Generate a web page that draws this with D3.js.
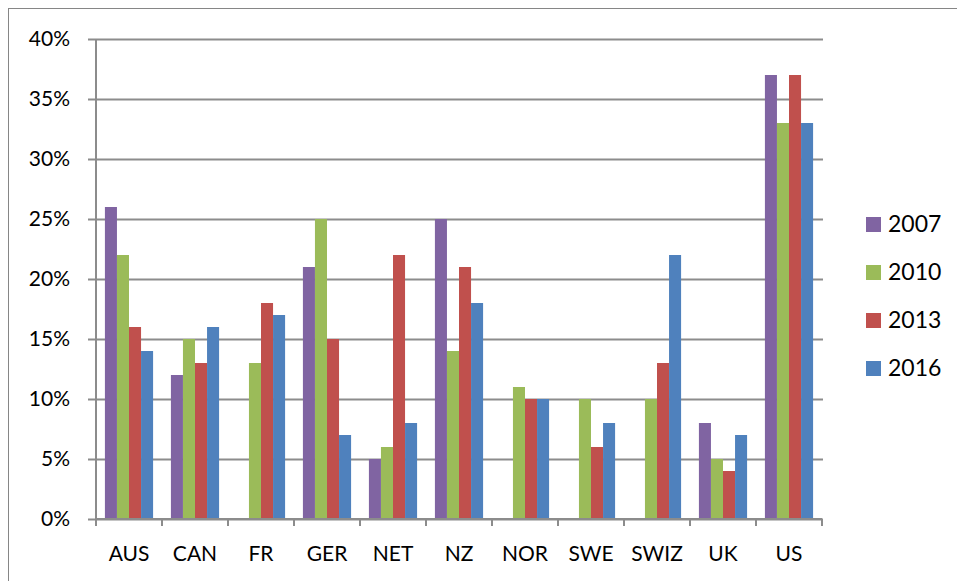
<!DOCTYPE html>
<html>
<head>
<meta charset="utf-8">
<script src="https://cdn.jsdelivr.net/npm/d3@7"></script>
<style>
  body { margin: 0; background: #fff; }
  text { font-family: Lato, "Open Sans", sans-serif; fill: #000; }
</style>
</head>
<body>
<div id="chart"></div>
<script>
const countries = ["AUS", "CAN", "FR", "GER", "NET", "NZ", "NOR", "SWE", "SWIZ", "UK", "US"];
const years = ["2007", "2010", "2013", "2016"];
const v2007 = [26, 12, 0, 21, 5, 25, 0, 0, 0, 8, 37];
const v2010 = [22, 15, 13, 25, 6, 14, 11, 10, 10, 5, 33];
const v2013 = [16, 13, 18, 15, 22, 21, 10, 6, 13, 4, 37];
const v2016 = [14, 16, 17, 7, 8, 18, 10, 8, 22, 7, 33];
const yTicks = [0, 5, 10, 15, 20, 25, 30, 35, 40];
const colors = ["#8064A2", "#9BBB59", "#C0504D", "#4F81BD"];

const width = 957, height = 581,
    margin = ({ top: 39, right: 135, bottom: 62, left: 96 });

const series = [v2007, v2010, v2013, v2016];

const svg = d3.select("#chart")
    .append("svg")
    .attr("width", width)
    .attr("height", height);

// outer chart frame
svg.append("rect")
    .attr("x", 8.5).attr("y", 8.5)
    .attr("width", width + 10).attr("height", height + 10)
    .attr("fill", "none")
    .attr("stroke", "#868686");

let x = d3.scaleBand()
    .domain(countries)
    .range([margin.left, width - margin.right])
    .paddingInner(0.27)
    .paddingOuter(0.135);

let xs = d3.scaleBand()
    .domain(years)
    .range([0, x.bandwidth()]);

let y = d3.scaleLinear()
    .domain([0, 40])
    .range([height - margin.bottom, margin.top]);

// gridlines + left axis
let yAxis = svg.append("g")
    .attr("transform", `translate(${margin.left},0)`)
    .call(d3.axisLeft(y).tickValues(yTicks).tickFormat(d => d + "%")
        .tickSize(-(width - margin.right - margin.left)).tickPadding(26));
yAxis.select(".domain").remove();
yAxis.selectAll(".tick line")
    .attr("stroke", "#8c8c8c").attr("stroke-width", 2)
    .attr("x1", -8).attr("x2", width - margin.right - margin.left + 1);
yAxis.selectAll(".tick text")
    .style("font-size", "21px").attr("fill", "#000");

svg.append("line")
    .attr("x1", margin.left).attr("x2", margin.left)
    .attr("y1", margin.top).attr("y2", y(0) + 7)
    .attr("stroke", "#8c8c8c").attr("stroke-width", 2);

// bars
countries.forEach((c, i) => {
    years.forEach((yr, j) => {
        let v = series[j][i];
        if (!v) return;
        svg.append("rect")
            .attr("x", x(c) + xs(yr))
            .attr("y", y(v))
            .attr("width", xs.bandwidth())
            .attr("height", y(0) - y(v))
            .attr("fill", colors[j]);
    });
});

// x axis
let step = x.step();
let xAxis = svg.append("g")
    .attr("transform", `translate(0,${y(0)})`)
    .call(d3.axisBottom(x).tickSize(0));
xAxis.select(".domain")
    .attr("stroke", "#8c8c8c").attr("stroke-width", 2)
    .attr("d", `M${margin.left},0H${width - margin.right}`);
xAxis.selectAll(".tick text")
    .attr("y", 42).attr("dy", null)
    .style("font-size", "21px").attr("fill", "#000");

d3.range(countries.length + 1).forEach(k => {
    let px = margin.left + k * step;
    svg.append("line")
        .attr("x1", px).attr("x2", px)
        .attr("y1", y(0)).attr("y2", y(0) + 7)
        .attr("stroke", "#8c8c8c").attr("stroke-width", 2);
});

// legend
let legend = svg.append("g").attr("transform", "translate(866,217)");
years.forEach((yr, j) => {
    let g = legend.append("g").attr("transform", `translate(0,${j * 48})`);
    g.append("rect")
        .attr("x", 0).attr("y", 0)
        .attr("width", 15).attr("height", 15)
        .attr("fill", colors[j]);
    g.append("text")
        .attr("x", 22).attr("y", 15)
        .style("font-size", "23px")
        .text(yr);
});
</script>
</body>
</html>
